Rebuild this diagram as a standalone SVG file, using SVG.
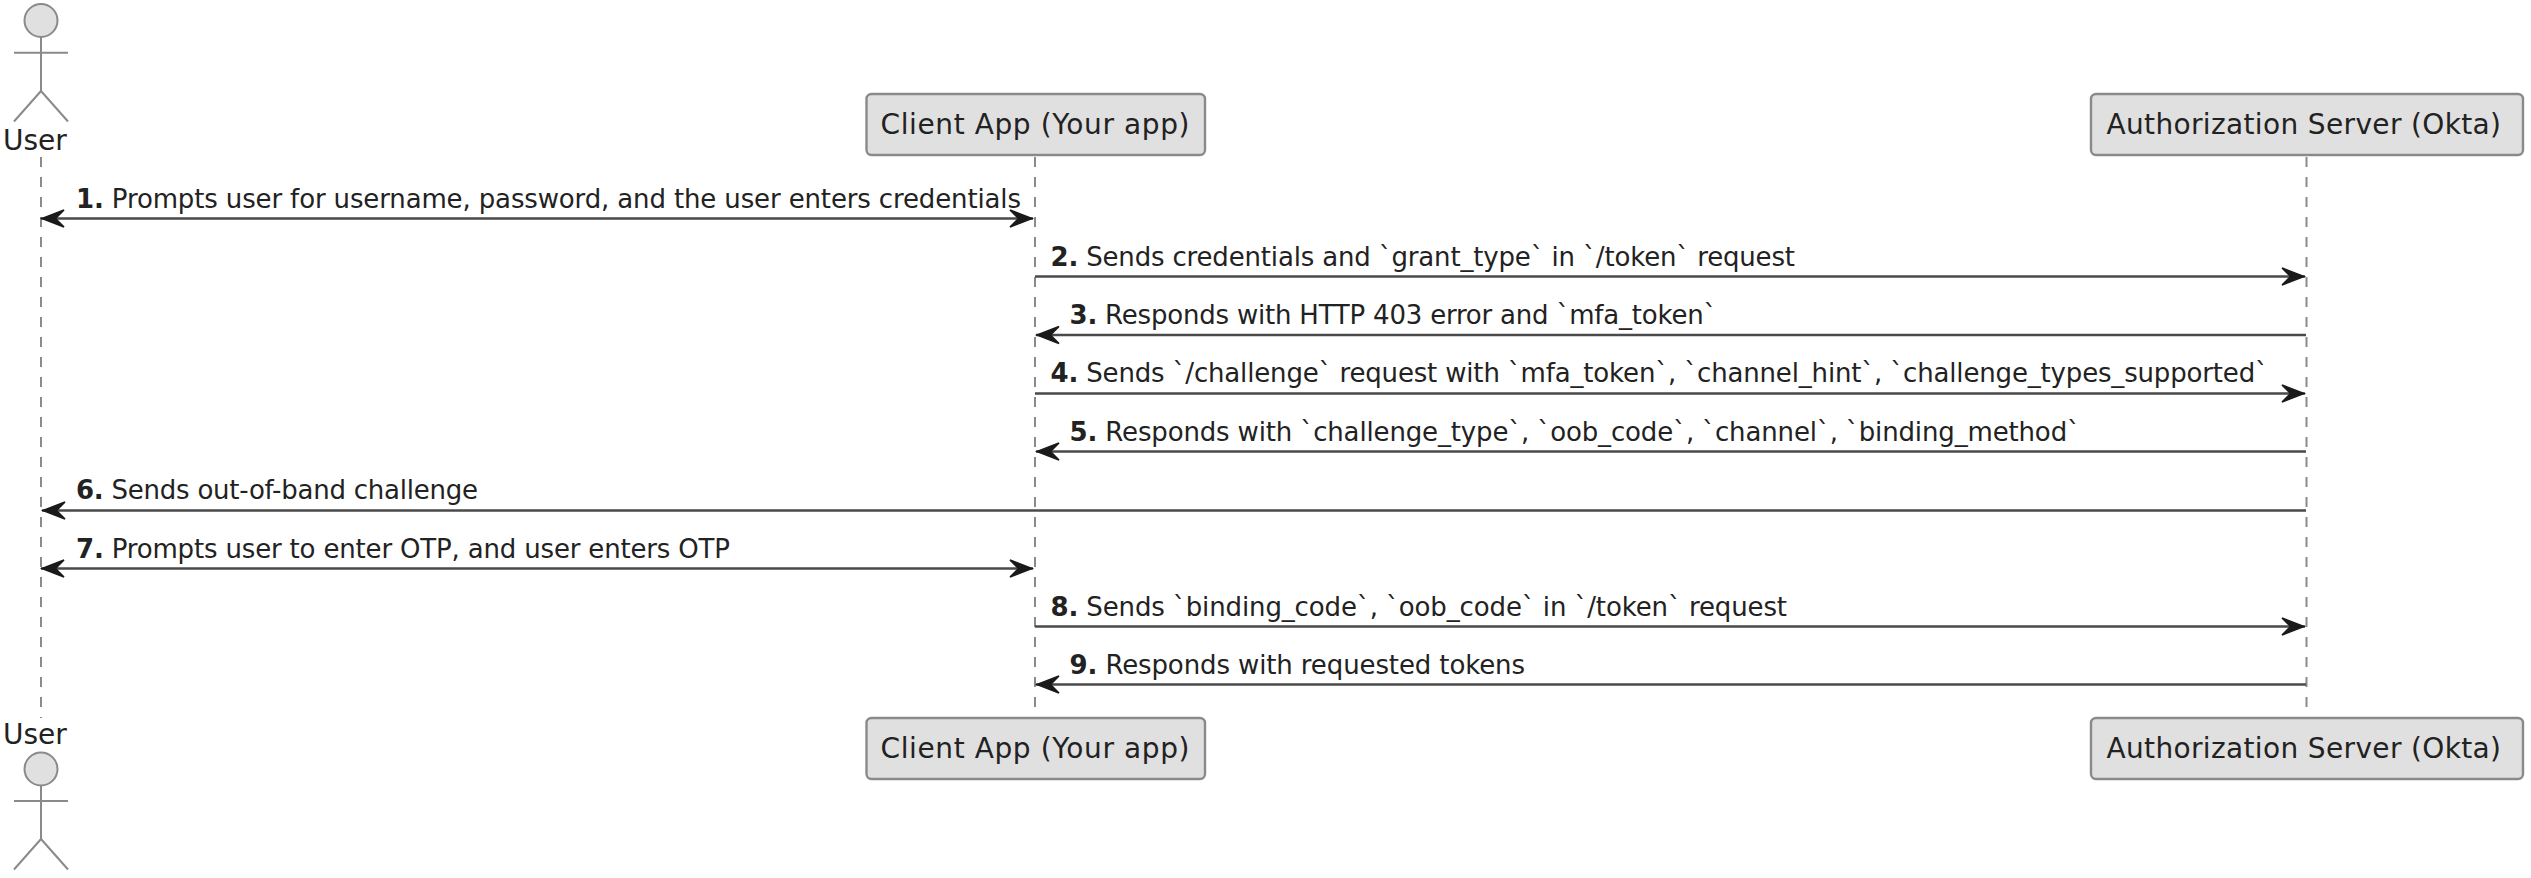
<svg xmlns="http://www.w3.org/2000/svg" width="2531" height="878" viewBox="0 0 2531 878">
<style>
text{font-family:"DejaVu Sans",sans-serif;fill:#222}
.n{font-size:28px}
.m{font-size:26px}
.m tspan{font-weight:bold}
.box{fill:#E0E0E0;stroke:#8a8a8a;stroke-width:2.400}
.act{fill:none;stroke:#8a8a8a;stroke-width:2}
.head{fill:#E0E0E0;stroke:#8a8a8a;stroke-width:2}
.life{stroke:#8a8a8a;stroke-width:2;stroke-dasharray:10 10;fill:none}
.msg{stroke:#4a4a4a;stroke-width:2.600;fill:none}
</style>
<defs>
<marker id="a" markerUnits="userSpaceOnUse" markerWidth="30" markerHeight="26" refX="25" refY="11" orient="auto-start-reverse" viewBox="0 0 30 26">
<path d="M2 2.500 L24 11 L2 19.500 L10.500 11 Z" fill="#1a1a1a" stroke="#1a1a1a" stroke-width="1.500"/>
</marker>
</defs>
<rect width="2531" height="878" fill="#fff"/>
<g id="lifelines">
<path class="life" d="M41 157V718"/>
<path class="life" d="M1035 157V718"/>
<path class="life" d="M2306.500 157V718"/>
</g>
<g id="user-top">
<circle class="head" cx="41" cy="20.500" r="16.500"/>
<path class="act" d="M41 37V91M14 52.700H68M41 91L14 121.500M41 91L68 121.500"/>
<text class="n" x="3" y="150">User</text>
</g>
<g id="client-top">
<rect class="box" x="866.500" y="94" width="338.500" height="61" rx="5"/>
<text class="n" x="880.500" y="133.500" textLength="309">Client App (Your app)</text>
</g>
<g id="server-top">
<rect class="box" x="2091" y="94" width="432" height="61" rx="5"/>
<text class="n" x="2106.500" y="133.500" textLength="394.500">Authorization Server (Okta)</text>
</g>
<g id="user-bottom">
<circle class="head" cx="41" cy="769" r="16.500"/>
<path class="act" d="M41 785.500V839M14 801H68M41 839L14 869.500M41 839L68 869.500"/>
<text class="n" x="3" y="744">User</text>
</g>
<g id="client-bottom">
<rect class="box" x="866.500" y="718" width="338.500" height="61" rx="5"/>
<text class="n" x="880.500" y="757.500" textLength="309">Client App (Your app)</text>
</g>
<g id="server-bottom">
<rect class="box" x="2091" y="718" width="432" height="61" rx="5"/>
<text class="n" x="2106.500" y="757.500" textLength="394.500">Authorization Server (Okta)</text>
</g>
<g id="connectors">
<path class="msg" marker-start="url(#a)" marker-end="url(#a)" d="M41 218.500H1033"/>
<path class="msg" marker-end="url(#a)" d="M1035 276.500H2305"/>
<path class="msg" marker-end="url(#a)" d="M2306 335H1036"/>
<path class="msg" marker-end="url(#a)" d="M1035 393.500H2305"/>
<path class="msg" marker-end="url(#a)" d="M2306 451.500H1036"/>
<path class="msg" marker-end="url(#a)" d="M2306 510.500H42"/>
<path class="msg" marker-start="url(#a)" marker-end="url(#a)" d="M41 568.500H1033"/>
<path class="msg" marker-end="url(#a)" d="M1035 626.500H2305"/>
<path class="msg" marker-end="url(#a)" d="M2306 684.500H1036"/>
</g>
<g id="labels">
<text class="m" x="76" y="207.500" textLength="945"><tspan>1.</tspan> Prompts user for username, password, and the user enters credentials</text>
<text class="m" x="1050.500" y="265.500" textLength="744.500"><tspan>2.</tspan> Sends credentials and `grant_type` in `/token` request</text>
<text class="m" x="1069.500" y="324" textLength="647"><tspan>3.</tspan> Responds with HTTP 403 error and `mfa_token`</text>
<text class="m" x="1050.500" y="382" textLength="1217.500"><tspan>4.</tspan> Sends `/challenge` request with `mfa_token`, `channel_hint`, `challenge_types_supported`</text>
<text class="m" x="1069.500" y="440.500" textLength="1010.500"><tspan>5.</tspan> Responds with `challenge_type`, `oob_code`, `channel`, `binding_method`</text>
<text class="m" x="76" y="499" textLength="402"><tspan>6.</tspan> Sends out-of-band challenge</text>
<text class="m" x="76" y="557.500" textLength="654"><tspan>7.</tspan> Prompts user to enter OTP, and user enters OTP</text>
<text class="m" x="1050.500" y="615.500" textLength="736.500"><tspan>8.</tspan> Sends `binding_code`, `oob_code` in `/token` request</text>
<text class="m" x="1069.500" y="673.500" textLength="455.500"><tspan>9.</tspan> Responds with requested tokens</text>
</g>
</svg>
